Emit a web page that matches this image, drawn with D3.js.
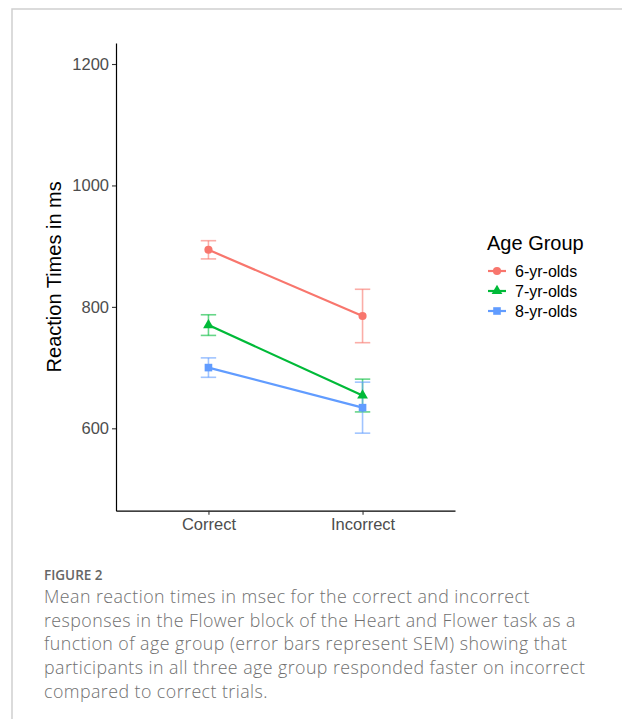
<!DOCTYPE html>
<html>
<head>
<meta charset="utf-8">
<script src="https://cdn.jsdelivr.net/npm/d3@7"></script>
<style>
  html, body { margin: 0; padding: 0; background: #fff; }
  svg { display: block; }
</style>
</head>
<body>
<svg id="chart" width="622" height="719"></svg>
<script>
const categories = ["Correct", "Incorrect"];
const groups = ["6-yr-olds", "7-yr-olds", "8-yr-olds"];
const means6 = [894, 785];
const se6 = [15, 44];
const means7 = [770, 654];
const se7 = [17, 27];
const means8 = [700, 634];
const se8 = [16, 42];
const yTicks = [600, 800, 1000, 1200];
const colors = ["#F8766D", "#00BA38", "#619CFF"];
const captionTitle = "FIGURE 2";
const captionLines = [
  "Mean reaction times in msec for the correct and incorrect",
  "responses in the Flower block of the Heart and Flower task as a",
  "function of age group (error bars represent SEM) showing that",
  "participants in all three age group responded faster on incorrect",
  "compared to correct trials."
];

(function () {
const series = [
  { name: groups[0], means: means6, se: se6, color: colors[0], shape: d3.symbolCircle, size: 52 },
  { name: groups[1], means: means7, se: se7, color: colors[1], shape: d3.symbolTriangle, size: 50 },
  { name: groups[2], means: means8, se: se8, color: colors[2], shape: d3.symbolSquare, size: 58 }
];

const svg = d3.select("#chart");
svg.append("rect").attr("width", 622).attr("height", 719).attr("fill", "#fff");

// frame
svg.append("path").attr("d", "M12,719 L12,9 L622,9")
  .attr("fill", "none").attr("stroke", "#cfcfcf").attr("stroke-width", 1.5);

const pLeft = 116, pRight = 455, pTop = 43, pBottom = 510.7;
const x = d3.scalePoint().domain(categories).range([pLeft, pRight]).padding(0.6);
const y = d3.scaleLinear().domain([464.3, 1234.6]).range([pBottom, pTop]);

const fontAx = "'Liberation Sans', Arial, sans-serif";

// axes
const yAxis = svg.append("g").attr("transform", `translate(${pLeft},0)`)
  .call(d3.axisLeft(y).tickValues(yTicks).tickFormat(d3.format("d")).tickSize(4).tickPadding(3).tickSizeOuter(0));
const xAxis = svg.append("g").attr("transform", `translate(0,${pBottom})`)
  .call(d3.axisBottom(x).tickSize(4).tickPadding(4).tickSizeOuter(0));
[yAxis, xAxis].forEach(g => {
  g.attr("font-family", null).attr("font-size", null);
  g.select(".domain").attr("stroke", "#000").attr("stroke-width", 1.2);
  g.selectAll(".tick line").attr("stroke", "#333").attr("stroke-width", 1.1);
  g.selectAll(".tick text").attr("fill", "#4d4d4d").style("font-family", fontAx).style("font-size", "16.5px");
});

// axis title
svg.append("text")
  .attr("transform", `translate(61,${(pTop + pBottom) / 2}) rotate(-90)`)
  .attr("text-anchor", "middle")
  .style("font-family", fontAx).style("font-size", "20px").attr("fill", "#000")
  .text("Reaction Times in ms");

// error bars
const capW = 15.4;
series.forEach(s => {
  const g = svg.append("g").attr("stroke", s.color).attr("stroke-opacity", 0.6).attr("stroke-width", 1.6).attr("fill", "none");
  categories.forEach((c, i) => {
    const cx = x(c), hi = y(s.means[i] + s.se[i]), lo = y(s.means[i] - s.se[i]);
    g.append("line").attr("x1", cx).attr("x2", cx).attr("y1", hi).attr("y2", lo);
    g.append("line").attr("x1", cx - capW / 2).attr("x2", cx + capW / 2).attr("y1", hi).attr("y2", hi);
    g.append("line").attr("x1", cx - capW / 2).attr("x2", cx + capW / 2).attr("y1", lo).attr("y2", lo);
  });
});

// lines and points
const line = d3.line().x((d, i) => x(categories[i])).y(d => y(d));
series.forEach(s => {
  svg.append("path").datum(s.means).attr("d", line)
    .attr("fill", "none").attr("stroke", s.color).attr("stroke-width", 2.2);
  svg.selectAll(null).data(s.means).enter().append("path")
    .attr("transform", (d, i) => `translate(${x(categories[i])},${y(d)})`)
    .attr("d", d3.symbol().type(s.shape).size(s.size))
    .attr("fill", s.color);
});

// legend
svg.append("text").attr("x", 487).attr("y", 250)
  .style("font-family", fontAx).style("font-size", "20px").attr("fill", "#000")
  .text("Age Group");
series.forEach((s, i) => {
  const ly = 271 + i * 20;
  svg.append("line").attr("x1", 488).attr("x2", 506).attr("y1", ly).attr("y2", ly)
    .attr("stroke", s.color).attr("stroke-width", 2.2);
  svg.append("path").attr("transform", `translate(497,${ly})`)
    .attr("d", d3.symbol().type(s.shape).size(s.size)).attr("fill", s.color);
  svg.append("text").attr("x", 515).attr("y", ly).attr("dy", "0.36em")
    .style("font-family", fontAx).style("font-size", "16px").attr("fill", "#000")
    .text(s.name);
});

// caption
const fontCap = "'Open Sans', 'Noto Sans', sans-serif";
svg.append("text").attr("x", 44).attr("y", 580)
  .style("font-family", fontCap).style("font-size", "13.5px").style("font-weight", 600)
  .attr("fill", "#666").text(captionTitle);
captionLines.forEach((t, i) => {
  svg.append("text").attr("x", 44).attr("y", 603 + i * 23.7)
    .style("font-family", fontCap).style("font-size", "17.8px").style("font-weight", 300)
    .style("letter-spacing", "0.45px")
    .attr("fill", "#707070").text(t);
});
})();
</script>
</body>
</html>
